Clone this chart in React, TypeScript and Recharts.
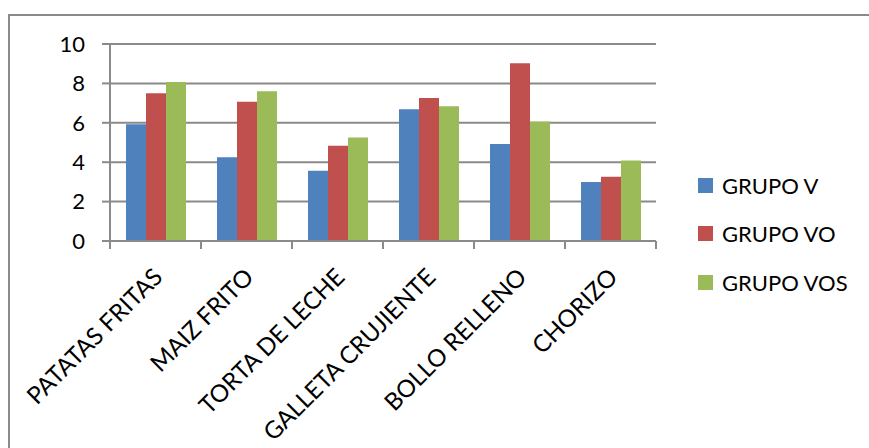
import { Bar, BarChart, CartesianGrid, XAxis, YAxis } from "recharts";

const categories = [
  "PATATAS FRITAS",
  "MAIZ FRITO",
  "TORTA DE LECHE",
  "GALLETA CRUJIENTE",
  "BOLLO RELLENO",
  "CHORIZO",
];
const grupoV = [5.93, 4.25, 3.56, 6.69, 4.93, 2.99];
const grupoVO = [7.5, 7.07, 4.83, 7.26, 9.02, 3.26];
const grupoVOS = [8.07, 7.6, 5.25, 6.84, 6.06, 4.08];
const yTicks = [0, 2, 4, 6, 8, 10];

const series = [
  { key: "v", name: "GRUPO V", color: "#4F81BD" },
  { key: "vo", name: "GRUPO VO", color: "#C0504D" },
  { key: "vos", name: "GRUPO VOS", color: "#9BBB59" },
];

const data = categories.map((name, i) => ({
  name,
  v: grupoV[i],
  vo: grupoVO[i],
  vos: grupoVOS[i],
}));

const FONT = "Lato, 'Open Sans', sans-serif";
const AXIS = "#8a8a8a";

// label plus the little tick marks sitting on the category boundaries
function CategoryTick({ x, y, payload }: any) {
  const half = payload.offset || 0;
  const last = payload.index === categories.length - 1;
  return (
    <g>
      <line x1={x - half} x2={x - half} y1={y} y2={y + 8} stroke={AXIS} strokeWidth={2} />
      {last && (
        <line x1={x + half} x2={x + half} y1={y} y2={y + 8} stroke={AXIS} strokeWidth={2} />
      )}
      <g transform={`translate(${x - 5},${y + 24}) rotate(-45)`}>
        <text
          x={0}
          y={0}
          textAnchor="end"
          dominantBaseline="hanging"
          fontFamily={FONT}
          fontSize={24}
          fill="#000"
        >
          {payload.value}
        </text>
      </g>
    </g>
  );
}

function LegendBox() {
  return (
    <div style={{ fontFamily: FONT, fontSize: 22, color: "#000" }}>
      {series.map((s) => (
        <div
          key={s.key}
          style={{ display: "flex", alignItems: "center", height: 48.5 }}
        >
          <span
            style={{
              display: "inline-block",
              width: 15,
              height: 15,
              background: s.color,
              marginRight: 9,
            }}
          />
          {s.name}
        </div>
      ))}
    </div>
  );
}

export default function App() {
  return (
    <div style={{ position: "relative", width: 869, height: 448, overflow: "hidden" }}>
      <style>{"body{margin:0;overflow:hidden;background:#fff}"}</style>
      <div
        style={{
          position: "absolute",
          left: 8,
          top: 14,
          width: 900,
          height: 500,
          borderTop: `2px solid ${AXIS}`,
          borderLeft: `2px solid ${AXIS}`,
        }}
      />
      <div style={{ position: "absolute", left: 0, top: 0 }}>
        <BarChart
          width={869}
          height={448}
          data={data}
          margin={{ top: 44, right: 213, left: 0, bottom: 0 }}
          barGap={0}
          barSize={20}
        >
          <CartesianGrid
            horizontal
            vertical={false}
            stroke={AXIS}
            strokeWidth={2}
            strokeOpacity={1}
          />
          <XAxis
            dataKey="name"
            height={207}
            axisLine={{ stroke: AXIS, strokeWidth: 2 }}
            tickLine={false}
            tickSize={0}
            tickMargin={0}
            interval={0}
            tick={<CategoryTick />}
          />
          <YAxis
            width={110}
            domain={[0, 10]}
            ticks={yTicks}
            interval={0}
            axisLine={{ stroke: AXIS, strokeWidth: 2 }}
            tickLine={{ stroke: AXIS, strokeWidth: 2 }}
            tickSize={8}
            tickMargin={17}
            tick={{ fontFamily: FONT, fontSize: 22, fill: "#000" }}
          />
          {series.map((s) => (
            <Bar
              key={s.key}
              dataKey={s.key}
              name={s.name}
              fill={s.color}
              isAnimationActive={false}
            />
          ))}
        </BarChart>
      </div>
      <div style={{ position: "absolute", left: 698, top: 161 }}>
        <LegendBox />
      </div>
    </div>
  );
}
